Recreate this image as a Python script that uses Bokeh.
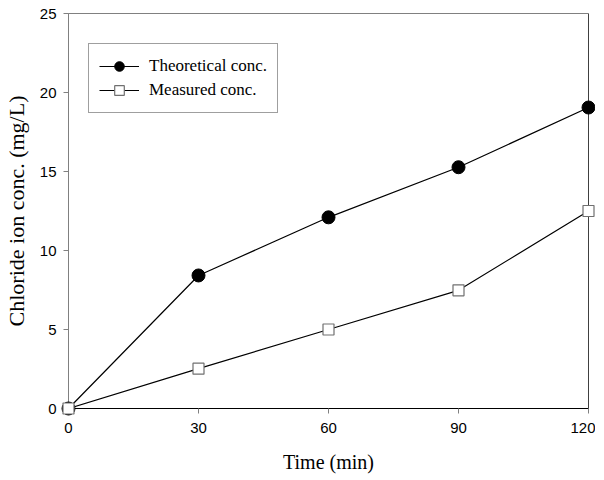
from bokeh.plotting import figure
from bokeh.models import Range1d, FixedTicker, Legend, Span
from bokeh.embed import file_html
from bokeh.resources import INLINE

time_min = [0, 30, 60, 90, 120]
theoretical = [0, 8.42, 12.1, 15.27, 19.05]
measured = [0, 2.52, 5.0, 7.48, 12.5]
x_ticks = [0, 30, 60, 90, 120]
y_ticks = [0, 5, 10, 15, 20, 25]

p = figure(frame_width=520, frame_height=395, x_range=Range1d(0, 120), y_range=Range1d(0, 25),
           output_backend="svg", toolbar_location=None,
           min_border_left=60, min_border_right=7, min_border_top=13, min_border_bottom=72)
p.xgrid.visible = False
p.ygrid.visible = False
p.outline_line_color = "#808080"
p.outline_line_width = 1

for ax in (p.xaxis[0], p.yaxis[0]):
    ax.major_tick_in = 0
    ax.major_tick_out = 5
    ax.minor_tick_line_color = None
    ax.major_label_text_font = "Liberation Sans"
    ax.major_label_text_font_size = "15px"
    ax.major_label_text_color = "black"
    ax.axis_label_text_font = "Liberation Serif"
    ax.axis_label_text_font_style = "normal"
    ax.axis_label_text_color = "black"
    ax.major_tick_line_color = "#808080"

p.xaxis[0].ticker = FixedTicker(ticks=x_ticks)
p.yaxis[0].ticker = FixedTicker(ticks=y_ticks)
p.xaxis[0].axis_line_color = "black"
p.yaxis[0].axis_line_color = "#808080"
p.xaxis.axis_label = "Time (min)"
p.yaxis.axis_label = "Chloride ion conc. (mg/L)"
p.xaxis[0].major_label_standoff = 9
p.yaxis[0].major_label_standoff = 7
p.xaxis[0].axis_label_text_font_size = "20px"
p.yaxis[0].axis_label_text_font_size = "22px"
p.xaxis[0].axis_label_standoff = 15
p.yaxis[0].axis_label_standoff = 8

p.add_layout(Span(location=x_ticks[-1], dimension="height", line_color="black", line_width=1))

l1 = p.line(time_min, theoretical, line_color="black", line_width=1.2)
s1 = p.scatter(time_min, theoretical, marker="circle", size=13, fill_color="black",
               line_color="black", level="overlay")
l2 = p.line(time_min, measured, line_color="black", line_width=1.2)
s2 = p.scatter(time_min, measured, marker="square", size=11, fill_color="white",
               line_color="#707070", line_width=1.2, level="overlay")

legend = Legend(items=[("Theoretical conc.", [l1, s1]), ("Measured conc.", [l2, s2])],
                location=(20, 295), glyph_width=40, glyph_height=24, label_height=20,
                spacing=0, padding=10, margin=0, label_standoff=10,
                label_text_font="Liberation Serif", label_text_font_size="17px",
                label_text_color="black",
                border_line_color="#404040", border_line_width=1,
                background_fill_alpha=1)
p.add_layout(legend)

open("out.html", "w").write(file_html(p, INLINE))
